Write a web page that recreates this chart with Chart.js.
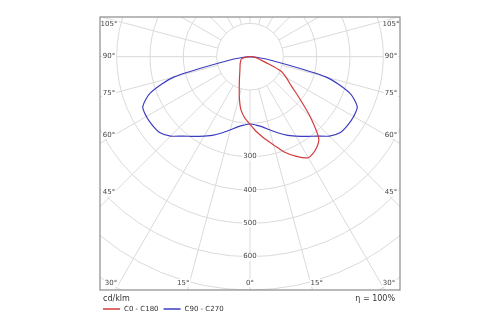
<!DOCTYPE html>
<html>
<head>
<meta charset="utf-8">
<script src="https://cdn.jsdelivr.net/npm/chart.js@4/dist/chart.umd.min.js"></script>
<style>
  html, body { margin: 0; padding: 0; background: #fff; }
  #wrap { width: 500px; height: 325px; }
</style>
</head>
<body>
<div id="wrap"><canvas id="lvk" width="500" height="325"></canvas></div>
<script>
// gamma angles (deg, 0 = nadir) and luminous intensity per plane, cd/klm
const angles = [0, 5, 10, 15, 20, 25, 30, 35, 40, 45, 50, 55, 60, 65, 70, 75, 80, 85, 90];
const c0   = [203, 226, 249, 274, 305, 330, 350, 342, 321, 256, 193, 150, 126, 103, 50, 28, 20, 8, 0];
const c180 = [203, 184, 160, 124, 94, 75, 62, 53, 47, 42, 39, 36, 33, 31, 29, 26, 20, 8, 0];
const c90  = [202, 206, 214, 227, 243, 260, 275, 292, 311, 337, 354, 358, 359, 355, 318, 237, 70, 20, 0];
const c270 = [202, 206, 214, 227, 243, 260, 275, 292, 311, 337, 354, 358, 359, 355, 318, 237, 70, 20, 0];

// grid
const rings = [100, 200, 300, 400, 500, 600, 700, 800, 900];
const ringLabels = [300, 400, 500, 600];
const sideAngleLabels = [45, 60, 75, 90, 105];
const bottomAngleLabels = [0, 15, 30];

const legendNames = ["C0 - C180", "C90 - C270"];
const unitText = "cd/klm";
const effText = "\u03B7 = 100%";

const RED = "#d23c3c";
const BLUE = "#3c3cc0";
const FONT = "'DejaVu Sans', Verdana, sans-serif";

// polar -> cartesian, side = +1 right half-plane, -1 left half-plane
function toXY(gamma, val, side) {
  const g = gamma * Math.PI / 180;
  return { x: side * val * Math.sin(g), y: -val * Math.cos(g) };
}

function planeCurve(left, right) {
  const pts = [];
  for (let i = angles.length - 1; i >= 0; i--) pts.push(toXY(angles[i], left[i], -1));
  for (let i = 1; i < angles.length; i++) pts.push(toXY(angles[i], right[i], 1));
  return pts;
}

const polarGrid = {
  id: "polarGrid",
  beforeDatasetsDraw(chart) {
    const { ctx, chartArea: a, scales: { x, y } } = chart;
    const cx = x.getPixelForValue(0), cy = y.getPixelForValue(0);
    const k = x.getPixelForValue(100) - cx;
    ctx.save();
    ctx.beginPath();
    ctx.rect(a.left, a.top, a.right - a.left, a.bottom - a.top);
    ctx.clip();
    ctx.strokeStyle = "#dadada";
    ctx.lineWidth = 1;
    rings.forEach(r => {
      ctx.beginPath();
      ctx.arc(cx, cy, r / 100 * k, 0, Math.PI * 2);
      ctx.stroke();
    });
    for (let g = 0; g < 360; g += 15) {
      const p0 = toXY(g, 100, 1), p1 = toXY(g, 1000, 1);
      ctx.beginPath();
      ctx.moveTo(x.getPixelForValue(p0.x), y.getPixelForValue(p0.y));
      ctx.lineTo(x.getPixelForValue(p1.x), y.getPixelForValue(p1.y));
      ctx.stroke();
    }
    ctx.restore();
  },
  afterDatasetsDraw(chart) {
    const { ctx, chartArea: a, scales: { x, y } } = chart;
    const cx = x.getPixelForValue(0), cy = y.getPixelForValue(0);
    ctx.save();
    ctx.font = "7px " + FONT;
    ctx.textAlign = "center";
    ctx.textBaseline = "middle";

    const tag = (txt, px, py) => {
      const w = ctx.measureText(txt).width;
      ctx.fillStyle = "#fff";
      ctx.fillRect(px - w / 2 - 1, py - 4, w + 2, 8);
      ctx.fillStyle = "#444";
      ctx.fillText(txt, px, py);
    };

    ringLabels.forEach(r => tag(String(r), cx, y.getPixelForValue(-r)));

    // gamma labels on the side edges, placed where the ray meets the label's inner end
    const sx = cx - a.left - 14;
    sideAngleLabels.forEach(g => {
      const t = Math.tan(g * Math.PI / 180);
      let py = cy + sx / t;
      py = Math.max(a.top + 7, Math.min(a.bottom - 7, py));
      tag(g + "\u00B0", a.left + 9, py);
      tag(g + "\u00B0", a.right - 9, py);
    });
    // gamma labels along the bottom edge
    const sy = a.bottom + 16 - cy;
    bottomAngleLabels.forEach(g => {
      let dx = sy * Math.tan(g * Math.PI / 180);
      dx = Math.min(dx, cx - a.left - 11);
      tag(g + "\u00B0", cx - dx, a.bottom - 7);
      if (g > 0) tag(g + "\u00B0", cx + dx, a.bottom - 7);
    });
    ctx.restore();
  },
  afterDraw(chart) {
    const { ctx, chartArea: a } = chart;
    ctx.save();
    ctx.strokeStyle = "#8c8c8c";
    ctx.lineWidth = 1.2;
    ctx.strokeRect(a.left, a.top, a.right - a.left, a.bottom - a.top);

    // unit, legend and efficiency below the frame
    ctx.fillStyle = "#333";
    ctx.font = "8px " + FONT;
    ctx.textBaseline = "middle";
    ctx.textAlign = "left";
    ctx.fillText(unitText, a.left + 3, a.bottom + 9);
    ctx.textAlign = "right";
    ctx.fillText(effText, a.right - 5, a.bottom + 9);

    ctx.font = "7px " + FONT;
    ctx.textAlign = "left";
    let lx = a.left + 3;
    const ly = a.bottom + 19;
    [RED, BLUE].forEach((col, i) => {
      ctx.strokeStyle = col;
      ctx.lineWidth = 1.5;
      ctx.beginPath();
      ctx.moveTo(lx, ly);
      ctx.lineTo(lx + 17, ly);
      ctx.stroke();
      ctx.fillStyle = "#333";
      ctx.fillText(legendNames[i], lx + 21, ly);
      lx += 21 + ctx.measureText(legendNames[i]).width + 5;
    });
    ctx.restore();
  }
};

new Chart(document.getElementById("lvk"), {
  type: "scatter",
  data: {
    datasets: [
      {
        label: legendNames[0],
        data: planeCurve(c180, c0),
        showLine: true,
        borderColor: RED,
        borderWidth: 1.2,
        pointRadius: 0,
        tension: 0.25,
        fill: false,
      },
      {
        label: legendNames[1],
        data: planeCurve(c270, c90),
        showLine: true,
        borderColor: BLUE,
        borderWidth: 1.2,
        pointRadius: 0,
        tension: 0.25,
        fill: false,
      },
    ],
  },
  options: {
    responsive: false,
    animation: false,
    devicePixelRatio: 1,
    layout: { padding: { left: 100, right: 100, top: 17, bottom: 35 } },
    plugins: { legend: { display: false }, tooltip: { enabled: false } },
    scales: {
      x: { type: "linear", min: -450, max: 450, display: false },
      y: { type: "linear", min: -700, max: 119, display: false },
    },
  },
  plugins: [polarGrid],
});
</script>
</body>
</html>
